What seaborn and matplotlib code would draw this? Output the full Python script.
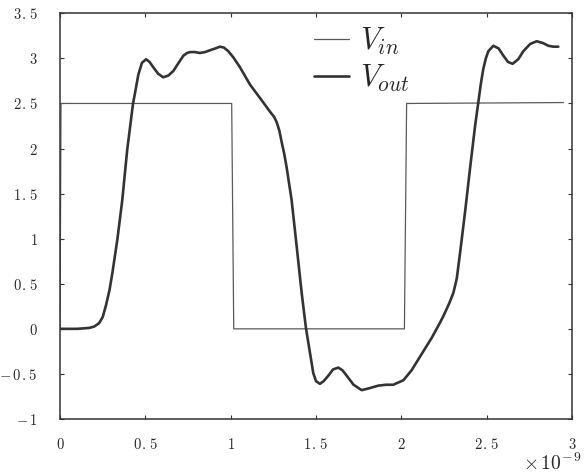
import numpy as np
import pandas as pd
import matplotlib
matplotlib.use("Agg")
import matplotlib.pyplot as plt
import seaborn as sns

# Time axis in units of 1e-9 s
t_in = [0.0, 0.006, 1.006, 1.018, 2.018, 2.031, 2.95]
v_in = [0.0, 2.5, 2.5, 0.0, 0.0, 2.5, 2.51]

t_out = [0.00, 0.10, 0.17, 0.20, 0.229, 0.25, 0.268, 0.29, 0.307, 0.336,
         0.365, 0.394, 0.428, 0.44, 0.459, 0.48, 0.504, 0.525, 0.547, 0.575,
         0.605, 0.635, 0.664, 0.695, 0.723, 0.745, 0.762, 0.79, 0.82, 0.85,
         0.879, 0.91, 0.937, 0.96, 0.986, 1.016, 1.055, 1.113, 1.172, 1.23,
         1.255, 1.27, 1.285, 1.299, 1.314, 1.328, 1.357, 1.387, 1.416, 1.441,
         1.465, 1.484, 1.50, 1.523, 1.545, 1.572, 1.60, 1.631, 1.655, 1.680,
         1.72, 1.768, 1.81, 1.865, 1.91, 1.953, 2.012, 2.06, 2.109, 2.178,
         2.227, 2.246, 2.28, 2.305, 2.325, 2.344, 2.373, 2.402, 2.432, 2.451,
         2.466, 2.480, 2.495, 2.51, 2.539, 2.57, 2.598, 2.625, 2.652, 2.685,
         2.715, 2.755, 2.793, 2.83, 2.861, 2.89, 2.92]
v_out = [0.00, 0.00, 0.01, 0.025, 0.063, 0.13, 0.25, 0.43, 0.62, 0.99,
         1.43, 1.99, 2.50, 2.62, 2.82, 2.95, 2.99, 2.96, 2.90, 2.83,
         2.79, 2.81, 2.86, 2.95, 3.03, 3.06, 3.07, 3.07, 3.06, 3.07,
         3.09, 3.11, 3.13, 3.12, 3.08, 3.01, 2.90, 2.71, 2.56, 2.41,
         2.35, 2.29, 2.20, 2.07, 1.94, 1.79, 1.43, 0.91, 0.40, 0.01,
         -0.27, -0.49, -0.58, -0.61, -0.58, -0.52, -0.45, -0.43, -0.46, -0.52,
         -0.62, -0.68, -0.66, -0.63, -0.62, -0.62, -0.57, -0.46, -0.31, -0.10,
         0.07, 0.14, 0.28, 0.40, 0.56, 0.84, 1.29, 1.77, 2.25, 2.51,
         2.72, 2.88, 3.00, 3.08, 3.14, 3.11, 3.03, 2.96, 2.94, 2.99,
         3.08, 3.16, 3.19, 3.17, 3.14, 3.13, 3.13]

x_ticks = [0, 0.5, 1, 1.5, 2, 2.5, 3]
x_labels = [r"$0$", r"$0\hspace{0.1}.\hspace{0.1}5$", r"$1$",
            r"$1\hspace{0.1}.\hspace{0.1}5$", r"$2$",
            r"$2\hspace{0.1}.\hspace{0.1}5$", r"$3$"]
y_ticks = [-1, -0.5, 0, 0.5, 1, 1.5, 2, 2.5, 3, 3.5]
y_labels = [r"$-\,1$", r"$-\,0\hspace{0.1}.\hspace{0.1}5$", r"$0$",
            r"$0\hspace{0.1}.\hspace{0.1}5$", r"$1$",
            r"$1\hspace{0.1}.\hspace{0.1}5$", r"$2$",
            r"$2\hspace{0.1}.\hspace{0.1}5$", r"$3$",
            r"$3\hspace{0.1}.\hspace{0.1}5$"]

sns.set_style("white")
plt.rcParams["mathtext.fontset"] = "cm"
plt.rcParams["font.family"] = ["DejaVu Serif"]

df_in = pd.DataFrame({"t": t_in, "v": v_in})
df_out = pd.DataFrame({"t": t_out, "v": v_out})

fig = plt.figure(figsize=(5.84, 4.73), dpi=100)
ax = fig.add_axes([60 / 584, 1 - 419 / 473, 512 / 584, (419 - 13.3) / 473])

sns.lineplot(data=df_in, x="t", y="v", ax=ax, sort=False, estimator=None,
             color="#5a5a5a", linewidth=0.9, label=r"$V_{in}$")
sns.lineplot(data=df_out, x="t", y="v", ax=ax, sort=False, estimator=None,
             color="#333333", linewidth=1.9, label=r"$V_{out}$")

ax.set_xlim(0, 3)
ax.set_ylim(-1, 3.5)
ax.set_xticks(x_ticks)
ax.set_xticklabels(x_labels, fontsize=10.5)
ax.set_yticks(y_ticks)
ax.set_yticklabels(y_labels, fontsize=10.5)
ax.set_xlabel("")
ax.set_ylabel("")
ax.tick_params(direction="in", length=3, width=0.8, color="#333333",
               top=True, right=True, bottom=True, left=True)
ax.tick_params(axis="x", pad=13)
ax.tick_params(axis="y", pad=16)
for s in ax.spines.values():
    s.set_color("#333333")
    s.set_linewidth(1.1)

leg = ax.legend(loc="upper left", bbox_to_anchor=(0.496, 0.97), frameon=False,
                fontsize=22, handlelength=1.15, handletextpad=0.35,
                labelspacing=0.2, borderpad=0.0, borderaxespad=0.0)

fig.text(582 / 584, 1 - 470 / 473, r"$\times\,10^{-\,9}$", fontsize=14,
         ha="right", va="baseline")

fig.savefig("out.png", dpi=100)
